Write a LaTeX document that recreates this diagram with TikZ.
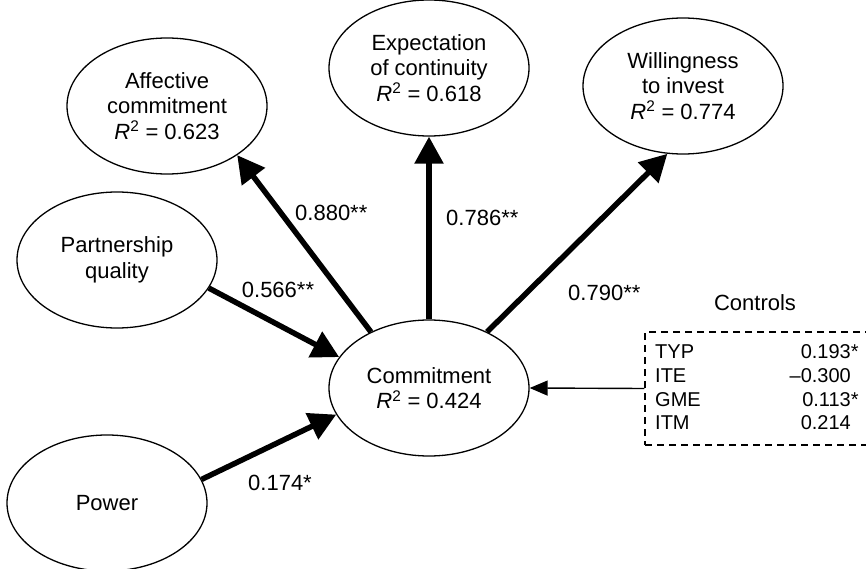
\documentclass[tikz,border=0pt]{standalone}
\usepackage{fontspec}
\setmainfont{Liberation Sans}
\usetikzlibrary{shapes.geometric,arrows.meta}
\newcommand{\rsq}{\textit{R}\textsuperscript{2}}
\begin{document}
\begin{tikzpicture}[x=1pt,y=-1pt,
  construct/.style={ellipse, draw, line width=1.3pt, minimum width=200pt,
    minimum height=136pt, inner sep=0pt, align=center,
    font=\fontsize{22}{25.5}\selectfont},
  effect/.style={line width=5.5pt, -{Triangle[length=27pt,width=28pt]}},
  ctrlarrow/.style={line width=1.4pt, -{Triangle[length=18pt,width=15pt]}},
  coef/.style={font=\fontsize{22}{26}\selectfont, inner sep=0pt},
  tab/.style={font=\fontsize{20}{24}\selectfont, inner sep=0pt},
  ctlbox/.style={draw, line width=1.2pt, dash pattern=on 7pt off 5pt,
    minimum width=255pt, minimum height=113pt, inner sep=0pt}
]
\useasboundingbox (0,0) rectangle (866,569);
\clip (0,0) rectangle (866,569);
\fill[white] (0,0) rectangle (866,569);

% latent constructs
\node[construct] (aff) at (167,106) {Affective\\commitment\\\rsq{} = 0.623};
\node[construct] (exp) at (429,68) {Expectation\\of continuity\\\rsq{} = 0.618};
\node[construct] (wil) at (683,86) {Willingness\\to invest\\\rsq{} = 0.774};
\node[construct] (par) at (117,260) {Partnership\\quality};
\node[construct] (com) at (429,388) {Commitment\\\rsq{} = 0.424};
\node[construct] (pow) at (107,503) {Power};

% control variables
\node[ctlbox] (ctl) at (772.5,388.5) {};
\node[font=\fontsize{22}{26}\selectfont, inner sep=0pt] (ctltitle) at (755,303) {Controls};
\node[tab, anchor=west] (typ) at (655,352) {TYP};
\node[tab, anchor=west] (ite) at (655,376) {ITE};
\node[tab, anchor=west] (gme) at (655,400) {GME};
\node[tab, anchor=west] (itm) at (655,423) {ITM};
\node[tab, anchor=east] (vtyp) at (851,352) {0.193\rlap{*}};
\node[tab, anchor=east] (vite) at (851,376) {–0.300};
\node[tab, anchor=east] (vgme) at (851,400) {0.113\rlap{*}};
\node[tab, anchor=east] (vitm) at (851,423) {0.214};

% structural paths
\draw[effect] (com.136) -- (aff.-35);
\draw[effect] (com.north) -- (exp.south);
\draw[effect] (com.44) -- (wil.-103);
\draw[effect] (par.-17) -- (com.161);
\draw[effect] (pow.14) -- (com.196);
\draw[ctrlarrow] (ctl.west) -- (com.east);

% path coefficients
\node[coef, anchor=west] (c1) at (295,213) {0.880**};
\node[coef, anchor=west] (c2) at (446,218) {0.786**};
\node[coef, anchor=west] (c3) at (568,293) {0.790**};
\node[coef] (c4) at (278,290) {0.566**};
\node[coef] (c5) at (280,483) {0.174*};
\end{tikzpicture}
\end{document}
